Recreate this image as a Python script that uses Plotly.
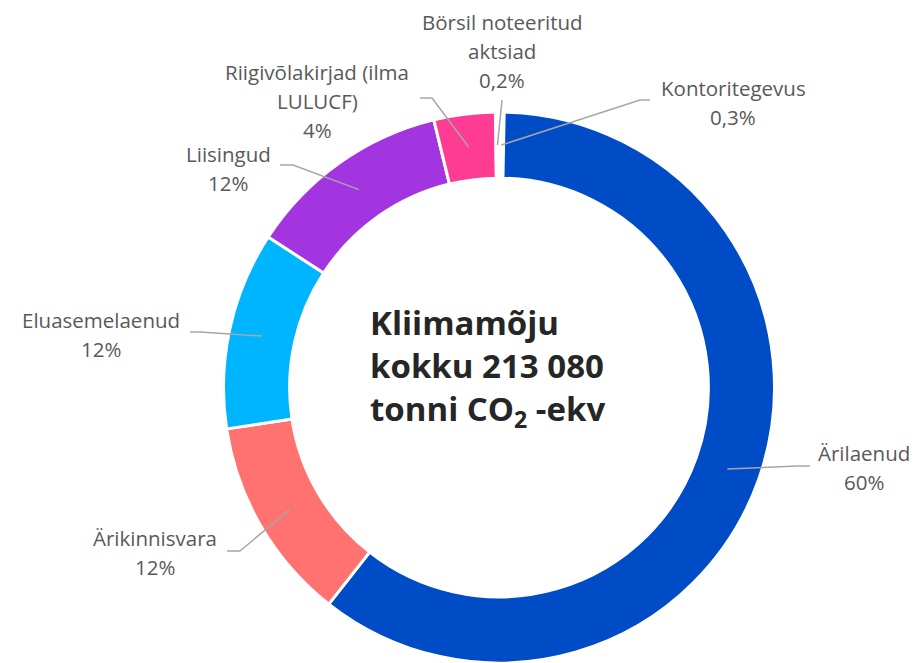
import numpy as np
import plotly.graph_objects as go

# ---------------- data ----------------
categories = ["Kontoritegevus", "Ärilaenud", "Ärikinnisvara", "Eluasemelaenud",
              "Liisingud", "Riigivõlakirjad (ilma LULUCF)", "Börsil noteeritud aktsiad"]
shares = [0.3, 60.3, 12.0, 11.6, 12.0, 3.6, 0.2]
pct_labels = ["0,3%", "60%", "12%", "12%", "12%", "4%", "0,2%"]
name_lines = [["Kontoritegevus"], ["Ärilaenud"], ["Ärikinnisvara"], ["Eluasemelaenud"],
              ["Liisingud"], ["Riigivõlakirjad (ilma", "LULUCF)"], ["Börsil noteeritud", "aktsiad"]]
colors = ["#FFFFFF", "#004BC6", "#FF7270", "#00B5FF", "#A235E0", "#FF3C94", "#FFFFFF"]
center_lines = ["Kliimamõju", "kokku 213 080", "tonni CO<sub>2</sub> -ekv"]

# ---------------- layout constants (screen pixels) ----------------
OFF = 8                      # default page body margin
W, H = 917 - 2 * OFF, 663 - OFF
CX, R = 499.0, 275.5
CY = 663 - R
HOLE = 0.76
R_MID = R * (1 + HOLE) / 2
LINE_PITCH = 29

# label placement: centre x, y of first line, leader path points after slice point
label_pos = [
    dict(x=733, y=88, path=[(640, 100), (650, 100)]),
    dict(x=864, y=453, path=[(798, 466), (810, 466)]),
    dict(x=155, y=538, path=[(240, 551), (227, 551)]),
    dict(x=101, y=320, path=[(200, 332), (190, 332)]),
    dict(x=228, y=154, path=[(293, 165), (280, 165)]),
    dict(x=317, y=72, path=[(432, 98), (420, 98)]),
    dict(x=502, y=22, path=[(502, 100)]),
]


def px(x):
    return (x - OFF) / W


def py(y):
    return 1 - (y - OFF) / H


fig = go.Figure(go.Pie(
    labels=categories,
    values=shares,
    sort=False,
    direction="clockwise",
    rotation=0,
    hole=HOLE,
    textinfo="none",
    hoverinfo="label+percent",
    marker=dict(colors=colors, line=dict(color="white", width=3)),
    domain=dict(x=[px(CX - R), px(CX + R)], y=[0, 2 * R / H]),
    showlegend=False,
))

total = float(np.sum(shares))
cum = np.cumsum(shares)
mids = (cum - np.array(shares) / 2) / total * 2 * np.pi

shapes = []
annotations = []
label_font = dict(family="Open Sans, sans-serif", size=20.5, color="#595959")
for i, th in enumerate(mids):
    sx = CX + R_MID * np.sin(th)
    sy = CY - R_MID * np.cos(th)
    pts = [(sx, sy)] + label_pos[i]["path"]
    path = "M " + " L ".join(f"{px(a):.5f},{py(b):.5f}" for a, b in pts)
    shapes.append(dict(type="path", xref="paper", yref="paper", path=path,
                       line=dict(color="#A6A6A6", width=1.5)))
    lines = name_lines[i] + [pct_labels[i]]
    for k, t in enumerate(lines):
        annotations.append(dict(
            x=px(label_pos[i]["x"]), y=py(label_pos[i]["y"] + k * LINE_PITCH),
            xref="paper", yref="paper", text=t, showarrow=False,
            xanchor="center", yanchor="middle", font=label_font))

center_font = dict(family="Open Sans, sans-serif", size=33, color="#262626", weight="bold")
annotations.append(dict(
    x=px(368), y=py(367), xref="paper", yref="paper", text="<br>".join(center_lines),
    showarrow=False, xanchor="left", yanchor="middle", align="left", font=center_font))

fig.update_layout(
    width=W, height=H,
    margin=dict(l=0, r=0, t=0, b=0),
    paper_bgcolor="white", plot_bgcolor="white",
    shapes=shapes, annotations=annotations,
)

fig.write_html("out.html")
